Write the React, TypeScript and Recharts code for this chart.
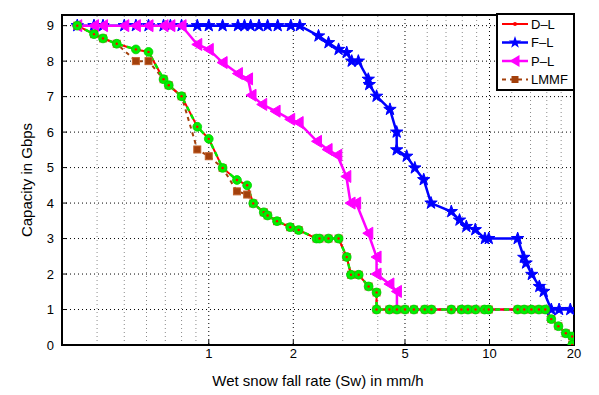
import {
  CartesianGrid,
  Label,
  Legend,
  Line,
  LineChart,
  ReferenceArea,
  ReferenceLine,
  XAxis,
  YAxis,
} from "recharts";

// wet snow fall rate samples shared by D-L, LMMF and the green reference track
const snowRate = [
  0.34, 0.39, 0.42, 0.47, 0.55, 0.61, 0.69, 0.72, 0.8, 0.91, 1.0, 1.12, 1.26,
  1.37, 1.44, 1.57, 1.62, 1.75, 1.95, 2.09, 2.42, 2.48, 2.67, 2.9, 3.1, 3.21,
  3.42, 3.71, 3.96, 3.96, 4.4, 4.68, 5.0, 5.38, 5.88, 6.21, 7.31, 7.94, 8.38,
  8.92, 9.6, 9.94, 12.6, 13.3, 14.1, 15.0, 15.8, 16.6, 17.6, 18.7, 19.7, 19.7,
];
const dlCapacity = [
  9, 8.76, 8.64, 8.49, 8.33, 8.26, 7.49, 7.32, 7.01, 6.15, 5.81, 4.99, 4.65,
  4.5, 3.99, 3.74, 3.65, 3.49, 3.32, 3.24, 3, 3, 3, 3, 2.48, 1.98, 1.98, 1.65,
  1.48, 1, 1, 1, 1, 1, 1, 1, 1, 1, 1, 1, 1, 1, 1, 1, 1, 1, 1, 0.73, 0.53, 0.33,
  0.24, 0,
];
const lmmfCapacity = [
  9, 8.76, 8.64, 8.49, 8.0, 8.0, 7.49, 7.32, 7.01, 5.51, 5.32, 4.99, 4.33,
  4.24, 3.99, 3.74, 3.65, 3.49, 3.32, 3.24, 3, 3, 3, 3, 2.48, 1.98, 1.98, 1.65,
  1.48, 1, 1, 1, 1, 1, 1, 1, 1, 1, 1, 1, 1, 1, 1, 1, 1, 1, 1, 0.73, 0.53, 0.33,
  0.24, 0,
];

const flRate = [
  0.34, 0.39, 0.42, 0.5, 0.55, 0.61, 0.69, 0.73, 0.8, 0.91, 1.0, 1.12, 1.27,
  1.34, 1.41, 1.51, 1.62, 1.76, 1.96, 2.11, 2.46, 2.67, 2.9, 3.1, 3.23, 3.41,
  3.7, 3.73, 3.96, 4.42, 4.67, 4.67, 5.07, 5.42, 5.83, 6.19, 7.31, 7.82, 8.27,
  8.9, 9.63, 9.94, 12.6, 13.25, 13.5, 14.15, 15.05, 15.6, 16.6, 17.7, 19.4,
];
const flCapacity = [
  9, 9, 9, 9, 9, 9, 9, 9, 9, 9, 9, 9, 9, 9, 9, 9, 9, 9, 9, 9, 8.71, 8.52, 8.33,
  8.24, 8.0, 8.0, 7.49, 7.34, 7.01, 6.64, 6.0, 5.5, 5.32, 4.99, 4.66, 4.0, 3.76,
  3.52, 3.34, 3.25, 3.0, 3.0, 3.0, 2.47, 2.31, 1.99, 1.65, 1.51, 1.0, 1.0, 1.0,
];

const plRate = [
  0.34, 0.39, 0.42, 0.5, 0.55, 0.61, 0.69, 0.73, 0.8, 0.91, 1.0, 1.12, 1.27,
  1.38, 1.42, 1.55, 1.73, 1.95, 2.09, 2.43, 2.65, 2.87, 3.09, 3.2, 3.35, 3.7,
  3.96, 3.96, 4.4, 4.68, 4.68, 5.0, 5.38, 5.88, 6.21, 7.31, 7.94, 8.38, 8.92,
  9.6, 9.94, 12.6, 13.3, 14.1, 15.0, 15.8, 16.6, 17.6, 18.7, 19.7, 19.7,
];
const plCapacity = [
  9, 9, 9, 9, 9, 9, 9, 9, 9, 8.47, 8.33, 7.96, 7.65, 7.5, 7.04, 6.78, 6.59,
  6.36, 6.27, 5.74, 5.51, 5.35, 4.75, 4.0, 4.0, 3.15, 2.48, 2.0, 1.72, 1.51, 1,
  1, 1, 1, 1, 1, 1, 1, 1, 1, 1, 1, 1, 1, 1, 1, 0.73, 0.53, 0.33, 0.24, 0,
];

const xTicks = [1, 2, 5, 10, 20];
const yTicks = [0, 1, 2, 3, 4, 5, 6, 7, 8, 9];
const minorX = [0.4, 0.5, 0.6, 0.7, 0.8, 0.9, 3, 4, 6, 7, 8, 9, 12, 14, 16, 18];

const legendNames = ["D\u2013L", "F\u2013L", "P\u2013L", "LMMF"];

const RED = "#ff0000";
const BLUE = "#0000ff";
const MAGENTA = "#ff00ff";
const BROWN = "#a3400c";
const GREEN = "#00ee00";
const FONT = "'Liberation Sans', Arial, Helvetica, sans-serif";

function zip(xs: number[], ys: number[]) {
  return xs.map((x, i) => ({ x, y: ys[i] }));
}

const dlData = zip(snowRate, dlCapacity);
const lmmfData = zip(snowRate, lmmfCapacity);
const flData = zip(flRate, flCapacity);
const plData = zip(plRate, plCapacity);

function starPoints(cx: number, cy: number, ro: number, ri: number) {
  const pts: string[] = [];
  for (let i = 0; i < 10; i++) {
    const r = i % 2 === 0 ? ro : ri;
    const a = -Math.PI / 2 + (i * Math.PI) / 5;
    pts.push(`${cx + r * Math.cos(a)},${cy + r * Math.sin(a)}`);
  }
  return pts.join(" ");
}

function StarDot(props: any) {
  const { cx, cy, index } = props;
  if (cx == null || cy == null) return <g key={`st-${index}`} />;
  return (
    <polygon
      key={`st-${index}`}
      points={starPoints(cx, cy, 6.5, 2.6)}
      fill={BLUE}
      stroke={BLUE}
      strokeWidth={1}
    />
  );
}

function TriDot(props: any) {
  const { cx, cy, index, payload } = props;
  // markers along the 1 Gbps floor are hidden under the green circles
  if (cx == null || cy == null || payload.y <= 1) return <g key={`tr-${index}`} />;
  return (
    <polygon
      key={`tr-${index}`}
      points={`${cx - 5.5},${cy} ${cx + 4.5},${cy - 6} ${cx + 4.5},${cy + 6}`}
      fill={MAGENTA}
      stroke={MAGENTA}
      strokeWidth={1}
    />
  );
}

function SquareDot(props: any) {
  const { cx, cy, index } = props;
  if (cx == null || cy == null) return <g key={`sq-${index}`} />;
  return (
    <rect
      key={`sq-${index}`}
      x={cx - 3.5}
      y={cy - 3.5}
      width={7}
      height={7}
      fill={BROWN}
      stroke="#c0602a"
      strokeWidth={1}
    />
  );
}

function GreenDot(props: any) {
  const { cx, cy, index } = props;
  if (cx == null || cy == null) return <g key={`gr-${index}`} />;
  return (
    <g key={`gr-${index}`}>
      <circle cx={cx} cy={cy} r={4.4} fill={GREEN} stroke="#00d000" strokeWidth={0.8} />
      <circle cx={cx} cy={cy} r={1.2} fill={RED} />
    </g>
  );
}

function LegendBox() {
  const rows = [11, 29.5, 48, 66.5];
  return (
    <svg width={80} height={79} style={{ display: "block" }}>
      <rect x={1} y={1} width={77} height={76} fill="#fff" stroke="#000" strokeWidth={2} />
      {legendNames.map((name, i) => {
        const y = rows[i];
        return (
          <g key={name}>
            {i === 0 && (
              <>
                <line x1={6} x2={32} y1={y} y2={y} stroke={RED} strokeWidth={2} />
                <circle cx={19} cy={y} r={2} fill={RED} />
              </>
            )}
            {i === 1 && (
              <>
                <line x1={6} x2={32} y1={y} y2={y} stroke={BLUE} strokeWidth={2.5} />
                <polygon points={starPoints(19, y, 6.5, 2.6)} fill={BLUE} />
              </>
            )}
            {i === 2 && (
              <>
                <line x1={6} x2={32} y1={y} y2={y} stroke={MAGENTA} strokeWidth={2.5} />
                <polygon points={`${13.5},${y} ${23.5},${y - 6} ${23.5},${y + 6}`} fill={MAGENTA} />
              </>
            )}
            {i === 3 && (
              <>
                <line x1={6} x2={32} y1={y} y2={y} stroke={BROWN} strokeWidth={2} strokeDasharray="4 4" />
                <rect x={15.5} y={y - 3.5} width={7} height={7} fill={BROWN} />
              </>
            )}
            <text x={35} y={y + 4.7} fontSize={13} fontFamily={FONT} fill="#000">
              {name}
            </text>
          </g>
        );
      })}
    </svg>
  );
}

const noLabel = () => "";

export default function App() {
  return (
    <div style={{ position: "absolute", left: 0, top: 0, width: 599, height: 395, background: "#fff" }}>
      <LineChart
        width={599}
        height={395}
        margin={{ top: 15, right: 25, bottom: 20, left: 2 }}
        style={{ fontFamily: FONT }}
      >
        <CartesianGrid stroke="#000" strokeDasharray="1 3" strokeWidth={1} />
        {minorX.map((v) => (
          <ReferenceLine key={v} x={v} stroke="#8a8a8a" strokeDasharray="1 3" strokeWidth={1} />
        ))}
        <XAxis
          type="number"
          dataKey="x"
          scale="log"
          domain={[0.3, 20]}
          ticks={xTicks}
          allowDataOverflow
          height={30}
          tickSize={-5}
          tickMargin={9}
          tickLine={{ stroke: "#000", strokeWidth: 1 }}
          axisLine={{ stroke: "#000", strokeWidth: 2 }}
          tick={{ fontSize: 13, fill: "#000", fontFamily: FONT }}
        >
          <Label
            value="Wet snow fall rate (Sw) in mm/h"
            position="insideBottom"
            offset={-11}
            style={{ fontSize: 15, fill: "#000", fontFamily: FONT }}
          />
        </XAxis>
        <XAxis
          xAxisId="top"
          orientation="top"
          type="number"
          scale="log"
          domain={[0.3, 20]}
          ticks={xTicks}
          allowDataOverflow
          height={0}
          tickSize={-5}
          tickFormatter={noLabel}
          tickLine={{ stroke: "#000", strokeWidth: 1 }}
          axisLine={false}
        />
        <YAxis
          type="number"
          domain={[0, 9.3]}
          ticks={yTicks}
          allowDataOverflow
          width={60}
          tickSize={-5}
          tickMargin={13}
          tickLine={{ stroke: "#000", strokeWidth: 1 }}
          axisLine={{ stroke: "#000", strokeWidth: 2 }}
          tick={{ fontSize: 13, fill: "#000", fontFamily: FONT }}
        >
          <Label
            value="Capacity in Gbps"
            angle={-90}
            position="center"
            dx={-5}
            style={{ fontSize: 15, fill: "#000", fontFamily: FONT, textAnchor: "middle" }}
          />
        </YAxis>
        <YAxis
          yAxisId="right"
          orientation="right"
          type="number"
          domain={[0, 9.3]}
          ticks={yTicks}
          allowDataOverflow
          width={0}
          tickSize={-5}
          tickFormatter={noLabel}
          tickLine={{ stroke: "#000", strokeWidth: 1 }}
          axisLine={false}
        />

        <Line
          data={flData}
          dataKey="y"
          name="F-L"
          stroke={BLUE}
          strokeWidth={2.5}
          dot={StarDot}
          activeDot={false}
          isAnimationActive={false}
        />
        <Line
          data={plData}
          dataKey="y"
          name="P-L"
          stroke={MAGENTA}
          strokeWidth={2.5}
          dot={TriDot}
          activeDot={false}
          isAnimationActive={false}
        />
        <Line
          data={lmmfData}
          dataKey="y"
          name="LMMF"
          stroke={BROWN}
          strokeWidth={2}
          strokeDasharray="4 4"
          dot={SquareDot}
          activeDot={false}
          isAnimationActive={false}
        />
        <Line
          data={dlData}
          dataKey="y"
          name="D-L"
          stroke={RED}
          strokeWidth={2}
          dot={false}
          activeDot={false}
          isAnimationActive={false}
        />
        <Line
          data={dlData}
          dataKey="y"
          name="green"
          legendType="none"
          stroke={GREEN}
          strokeWidth={2.5}
          strokeDasharray="5 4"
          dot={GreenDot}
          activeDot={false}
          isAnimationActive={false}
        />

        <ReferenceArea
          x1={0.3}
          x2={20}
          y1={0}
          y2={9.3}
          fill="none"
          stroke="#000"
          strokeWidth={2}
          ifOverflow="visible"
        />
        <Legend
          layout="vertical"
          align="center"
          verticalAlign="middle"
          content={() => <LegendBox />}
          wrapperStyle={{ position: "absolute", left: 496, top: 13, width: 80, height: 79 }}
        />
      </LineChart>
    </div>
  );
}
